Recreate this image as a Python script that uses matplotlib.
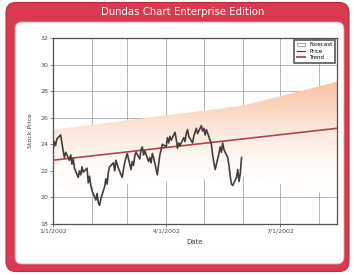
import numpy as np
import pandas as pd
import matplotlib
matplotlib.use("Agg")
import matplotlib.pyplot as plt
import matplotlib.dates as mdates
from matplotlib.patches import FancyBboxPatch, Patch
from matplotlib.lines import Line2D
from matplotlib.colors import LinearSegmentedColormap

# ---------------- data ----------------
title = "Dundas Chart Enterprise Edition"
price_start = "2002-01-01"
price = [
    23.6, 24.2, 23.9, 24.4,
    24.7, 24.1, 23.5, 23.0, 23.4,
    22.8, 23.2, 22.5, 22.9, 22.2,
    21.5, 22.0, 21.7, 22.3, 21.9,
    22.2, 21.1, 21.6, 20.9, 20.5,
    19.8, 20.3, 19.6, 19.4, 19.9,
    20.8, 21.4, 21.0, 21.9, 22.3,
    22.6, 22.0, 22.8, 22.5, 22.2,
    21.5, 22.1, 22.6, 23.0, 23.3,
    22.1, 22.7, 22.4, 23.1, 23.4,
    22.9, 23.6, 23.8, 23.2, 23.5,
    22.7, 23.0, 22.6, 23.3, 23.0,
    21.7, 22.5, 23.2, 23.6, 24.0,
    23.8, 24.5, 24.1, 24.6, 24.3,
    24.9, 24.4, 23.7, 24.1, 23.9,
    24.5, 24.2, 24.8, 25.1, 24.6,
    24.1, 24.6, 24.9, 25.2, 24.8,
    25.4, 25.0, 25.2, 24.7, 25.1,
    24.3, 24.0, 23.2, 22.6, 22.1,
    23.3, 23.8, 23.4, 24.1, 23.6,
    23.0, 22.4, 21.6, 21.0, 20.9,
    21.5, 22.1, 21.2, 21.8, 23.0,
]
fc_dates = ["2002-01-01", "2002-06-01", "2002-08-15"]
trend = [22.8, 24.4, 25.2]
upper = [25.1, 26.9, 28.7]
lower = [20.6, 21.6, 20.1]
yticks = [18, 20, 22, 24, 26, 28, 30, 32]
xtick_dates = ["2002-01-01", "2002-04-01", "2002-07-01"]
xtick_labels = ["1/1/2002", "4/1/2002", "7/1/2002"]
grid_months = pd.date_range("2002-01-01", "2002-08-01", freq="MS")
xlim_dates = ["2002-01-01", "2002-08-15"]

# ---------------- figure ----------------
fig = plt.figure(figsize=(3.54, 2.75), dpi=100)
fig.patch.set_facecolor("white")

red = "#da3a50"
outer = FancyBboxPatch((0.06, 0.035), 3.43, 2.69, boxstyle="round,pad=0,rounding_size=0.1",
                       transform=fig.dpi_scale_trans, facecolor=red, edgecolor="#b82a3e",
                       linewidth=0.8, zorder=0)
inner = FancyBboxPatch((0.15, 0.11), 3.29, 2.42, boxstyle="round,pad=0,rounding_size=0.07",
                       transform=fig.dpi_scale_trans, facecolor="white", edgecolor="#e8a0a8",
                       linewidth=0.6, zorder=0.5)
fig.patches.extend([outer, inner])
fig.text(0.515, 0.958, title, color="white", fontsize=7.3, ha="center", va="center")

ax = fig.add_axes([0.150, 0.1855, 0.802, 0.6765])
ax.set_zorder(2)

pdates = pd.bdate_range(price_start, periods=len(price))
fd = mdates.date2num(pd.to_datetime(fc_dates))

# band with vertical gradient
poly = ax.fill_between(fd, lower, upper, facecolor="none", edgecolor="none")
cmap = LinearSegmentedColormap.from_list(
    "g", [(0.0, "#ffffff"), (0.3, "#fffaf6"), (0.6, "#fce6d8"), (1.0, "#f7c2a2")])
grad = np.linspace(0, 1, 256).reshape(-1, 1)
img = ax.imshow(grad, extent=[fd[0], fd[-1], min(lower), max(upper)], origin="lower",
                aspect="auto", cmap=cmap, zorder=1)
img.set_clip_path(poly.get_paths()[0], transform=ax.transData)

ax.plot(fd, trend, color="#b8404a", lw=1.2, zorder=3)
ax.plot(pdates, price, color="#404040", lw=1.2, zorder=4)

ax.set_ylim(18, 32)
ax.set_yticks(yticks)
ax.set_xlim(mdates.date2num(pd.to_datetime(xlim_dates)))
ax.set_xticks(mdates.date2num(pd.to_datetime(xtick_dates)))
ax.set_xticklabels(xtick_labels)
ax.set_xticks(mdates.date2num(grid_months), minor=True)
ax.grid(True, which="both", color="#a8a8a8", lw=0.6)
ax.set_axisbelow(True)
for s in ax.spines.values():
    s.set_color("#505050")
    s.set_linewidth(0.9)
ax.tick_params(labelsize=4.5, colors="#505050", length=2, width=0.5, pad=1.5)
ax.tick_params(which="minor", length=0)
ax.set_xlabel("Date", fontsize=5, color="#404040", labelpad=4)
ax.set_ylabel("Stock Price", fontsize=4.5, color="#404040", labelpad=5)

handles = [Patch(facecolor="white", edgecolor="#808080", lw=0.5),
           Line2D([], [], color="#3a3a3a", lw=0.8),
           Line2D([], [], color="#b8404a", lw=1.3)]
leg = ax.legend(handles, ["Forecast", "Price", "Trend"], loc="upper right",
                fontsize=4, frameon=True, fancybox=False, borderaxespad=0.3,
                handlelength=1.5, handleheight=0.6, labelspacing=0.25, borderpad=0.5)
leg.get_frame().set_edgecolor("#404040")
leg.get_frame().set_linewidth(1.3)

fig.savefig("out.png", dpi=100)
